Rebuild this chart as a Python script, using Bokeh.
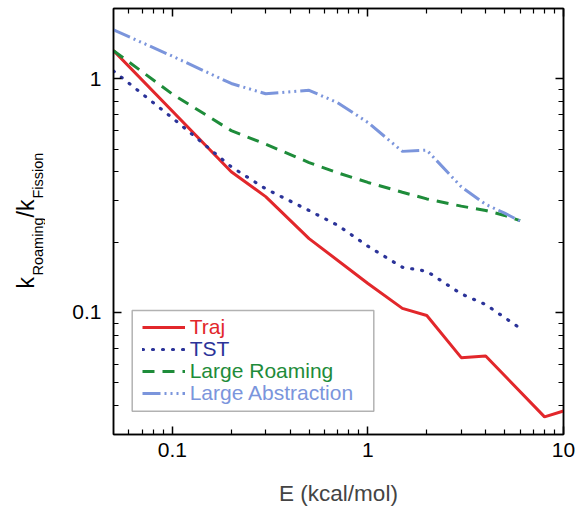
import math
from bokeh.plotting import figure
from bokeh.layouts import row
from bokeh.models import (FixedTicker, LogAxis, CustomJSTickFormatter, Legend, LegendItem,
                          BoxAnnotation)
from bokeh.core.properties import value
from bokeh.embed import file_html
from bokeh.resources import INLINE

# ---------------- data ----------------
E_traj = [0.05, 0.2, 0.3, 0.5, 1.0, 1.5, 2.0, 3.0, 4.0, 8.0, 10.0]
k_traj = [1.32, 0.40, 0.313, 0.207, 0.133, 0.104, 0.097, 0.064, 0.065, 0.0357, 0.0378]

E_tst = [0.05, 0.1, 0.2, 0.3, 0.5, 0.7, 1.0, 1.5, 2.0, 3.0, 4.0, 5.0, 6.0]
k_tst = [1.08, 0.68, 0.42, 0.338, 0.273, 0.236, 0.192, 0.156, 0.150, 0.120, 0.108, 0.095, 0.0855]

E_roam = [0.05, 0.1, 0.2, 0.3, 0.5, 0.7, 1.0, 1.5, 2.0, 3.0, 4.0, 5.0, 6.0]
k_roam = [1.32, 0.86, 0.60, 0.525, 0.438, 0.396, 0.36, 0.327, 0.306, 0.285, 0.273, 0.26, 0.247]

E_abs = [0.05, 0.1, 0.2, 0.3, 0.5, 0.7, 1.0, 1.5, 2.0, 3.0, 4.0, 5.0, 6.0]
k_abs = [1.62, 1.25, 0.955, 0.863, 0.893, 0.79, 0.65, 0.489, 0.495, 0.345, 0.29, 0.266, 0.246]

series_names = ["Traj", "TST", "Large Roaming", "Large Abstraction"]
series_colors = ["#e2272b", "#2b3399", "#1e8c3a", "#7b95dc"]

x_major = [0.1, 1, 10]
x_minor = [0.06, 0.07, 0.08, 0.09, 0.2, 0.3, 0.4, 0.5, 0.6, 0.7, 0.8, 0.9,
           2, 3, 4, 5, 6, 7, 8, 9]
y_major = [0.1, 1]
y_minor = [0.03, 0.04, 0.05, 0.06, 0.07, 0.08, 0.09,
           0.2, 0.3, 0.4, 0.5, 0.6, 0.7, 0.8, 0.9, 2]

# y-axis title pieces (main text and subscripts)
ylabel_parts = ["k", "Roaming", "/k", "Fission"]

FONT = "Liberation Sans"
H = 509
LW = 45            # width of the strip holding the y-axis title
FRAME_TOP = 8      # main plot frame top (px)
FRAME_BOT = 434    # main plot frame bottom (px)

# ---------------- y-axis title strip ----------------
# the row aligns this strip's frame with the main frame, so its range is set
# so that data y = H - pixel row
pl = figure(width=LW, height=H, x_range=(0, LW), y_range=(H - FRAME_BOT, H - FRAME_TOP),
            title=None, output_backend="svg", toolbar_location=None,
            x_axis_location=None, y_axis_location=None, min_border=0)
pl.grid.visible = False
pl.outline_line_color = None
ypos = [(25, 288, "23px"), (37, 275, "14.5px"), (25, 217, "23px"), (37.5, 198, "14.5px")]
for t, (x, y, s) in zip(ylabel_parts, ypos):
    pl.text(x=[x], y=[H - y], text=[t], angle=math.pi / 2, text_align="left",
            text_baseline="alphabetic", text_font=value(FONT), text_font_size=s,
            text_color="black")

# ---------------- main plot ----------------
p = figure(width=578 - LW, height=H, x_axis_type="log", y_axis_type="log",
           x_range=(0.05, 10), y_range=(0.03, 2),
           output_backend="svg", toolbar_location=None,
           min_border_left=113 - LW, min_border_right=15, min_border_top=FRAME_TOP,
           min_border_bottom=H - FRAME_BOT)
p.grid.visible = False
p.outline_line_color = "black"
p.outline_line_width = 1.5


def style_axis(ax, labels=True):
    ax.axis_line_color = "black"
    ax.axis_line_width = 1.5
    ax.major_tick_in = 8
    ax.major_tick_out = 0
    ax.minor_tick_in = 5
    ax.minor_tick_out = 0
    ax.major_tick_line_width = 1.5
    ax.minor_tick_line_width = 1.2
    ax.major_tick_line_color = "black"
    ax.minor_tick_line_color = "black"
    if labels:
        ax.major_label_text_font = FONT
        ax.major_label_text_font_size = "21px"
        ax.major_label_text_color = "black"
        ax.formatter = CustomJSTickFormatter(code="return String(tick);")
    else:
        ax.major_label_text_font_size = "0px"
        ax.major_label_standoff = 0
        ax.formatter = CustomJSTickFormatter(code="return '';")


p.xaxis.ticker = FixedTicker(ticks=x_major, minor_ticks=x_minor)
p.yaxis.ticker = FixedTicker(ticks=y_major, minor_ticks=y_minor)
for ax in p.xaxis:
    style_axis(ax)
    ax.major_label_standoff = 8
    ax.axis_label = "E (kcal/mol)"
    ax.axis_label_text_font = FONT
    ax.axis_label_text_font_size = "22.5px"
    ax.axis_label_text_font_style = "normal"
    ax.axis_label_standoff = 21
for ax in p.yaxis:
    style_axis(ax)
    ax.major_label_standoff = 12

top_ax = LogAxis(ticker=FixedTicker(ticks=x_major, minor_ticks=x_minor))
style_axis(top_ax, labels=False)
p.add_layout(top_ax, "above")
right_ax = LogAxis(ticker=FixedTicker(ticks=y_major, minor_ticks=y_minor))
style_axis(right_ax, labels=False)
p.add_layout(right_ax, "right")

r_traj = p.line(E_traj, k_traj, line_color=series_colors[0], line_width=3)
r_tst = p.line(E_tst, k_tst, line_color=series_colors[1], line_width=3.2,
               line_dash="1 9", line_cap="round")
r_roam = p.line(E_roam, k_roam, line_color=series_colors[2], line_width=3,
                line_dash="12 8")
r_abs = p.line(E_abs, k_abs, line_color=series_colors[3], line_width=3,
               line_dash="18 4 2 4 2 4 2 4")
renderers = [r_traj, r_tst, r_roam, r_abs]

# legend frame (canvas pixels of the main plot)
box = BoxAnnotation(left=131.7 - LW, right=373.3 - LW, top=310, bottom=410.7,
                    left_units="canvas", right_units="canvas",
                    top_units="canvas", bottom_units="canvas",
                    fill_alpha=0, line_color="black", line_width=1.5)
p.add_layout(box)

leg_y = [95.3, 73.3, 51.3, 29.3]
for name, col, r, ly in zip(series_names, series_colors, renderers, leg_y):
    lg = Legend(items=[LegendItem(label=name, renderers=[r])], location=(28.7, ly),
                border_line_color=None, background_fill_alpha=0, padding=0, margin=0,
                spacing=0, glyph_width=43, glyph_height=20, label_height=20,
                label_standoff=5, label_text_color=col, label_text_font=FONT,
                label_text_font_size="21px")
    p.add_layout(lg, "center")

layout = row(pl, p, spacing=0)
open("out.html", "w").write(file_html(layout, INLINE))
